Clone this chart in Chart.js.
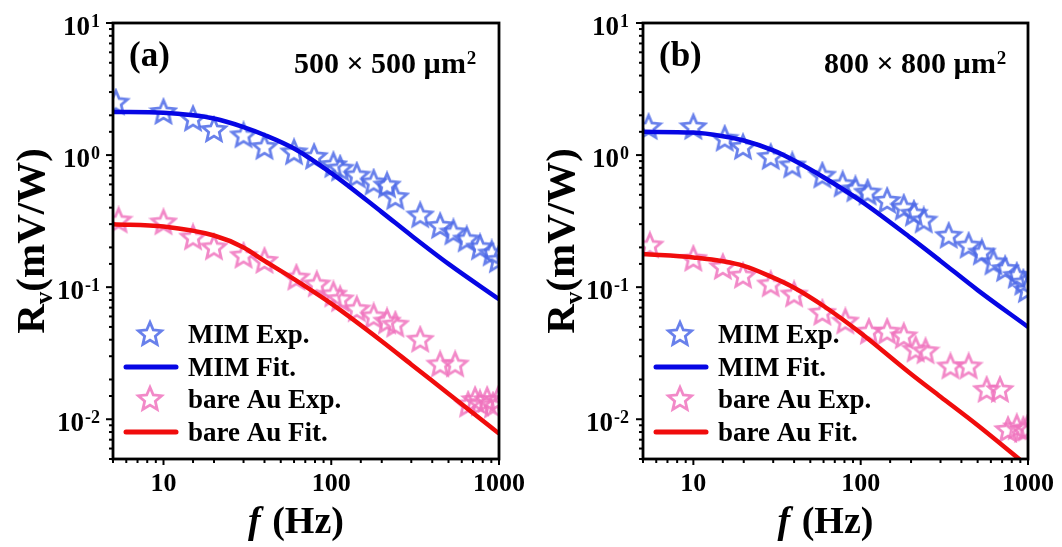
<!DOCTYPE html>
<html><head><meta charset="utf-8">
<script src="https://cdn.jsdelivr.net/npm/chart.js@4.4.0/dist/chart.umd.min.js"></script>
<style>
html,body{margin:0;padding:0;background:#fff;}
#wrap{position:relative;width:1062px;height:547px;background:#fff;}
.panel{position:absolute;top:0;width:531px;height:547px;}
</style></head><body>
<div id="wrap">
<div class="panel" style="left:0"><canvas id="ca" width="531" height="547"></canvas></div>
<div class="panel" style="left:531px"><canvas id="cb" width="531" height="547"></canvas></div>
</div>
<script>
// ---- axis ranges and tick labels ----
const xRange = [5, 1000];
const yRange = [0.005, 10];
const xTickValues = [10, 100, 1000];
const xTickLabels = ['10', '100', '1000'];
const yTickValues = [0.01, 0.1, 1, 10];
const yTickExponents = ['-2', '-1', '0', '1'];
const legendLabels = ['MIM Exp.', 'MIM Fit.', 'bare Au Exp.', 'bare Au Fit.'];

// ---- panel (a) 500 x 500 um^2 ----
const aMimExpF = [5.2, 10, 15, 20, 30, 40, 60, 79, 103, 113, 142, 179, 215, 241, 339, 446, 535, 642, 771, 905, 985];
const aMimExpR = [2.5, 2.12, 1.88, 1.55, 1.41, 1.15, 1.05, 0.97, 0.84, 0.79, 0.70, 0.62, 0.59, 0.48, 0.35, 0.29, 0.26, 0.23, 0.20, 0.18, 0.16];
const aMimFitF = [5, 10, 15, 20, 30, 40, 60, 100, 200, 300, 500, 1000];
const aMimFitR = [2.12, 2.09, 2.0, 1.89, 1.63, 1.42, 1.12, 0.73, 0.37, 0.246, 0.15, 0.081];
const aBareExpF = [5.4, 10, 15, 20, 30, 40, 62, 82, 103, 113, 142, 179, 215, 241, 339, 446, 548, 655, 720, 770, 850, 921, 985];
const aBareExpR = [0.32, 0.31, 0.238, 0.2, 0.173, 0.158, 0.118, 0.105, 0.088, 0.081, 0.068, 0.06, 0.055, 0.052, 0.040, 0.026, 0.026, 0.0129, 0.014, 0.0132, 0.014, 0.0127, 0.014];
const aBareFitF = [5, 10, 20, 30, 40, 60, 100, 200, 300, 500, 1000];
const aBareFitR = [0.30, 0.288, 0.246, 0.2, 0.158, 0.115, 0.075, 0.039, 0.026, 0.0156, 0.0078];

// ---- panel (b) 800 x 800 um^2 ----
const bMimExpF = [5.4, 10, 15.4, 19.8, 29, 39, 59, 78, 93, 110, 144, 181, 208, 238, 336, 442, 530, 622, 730, 857, 938, 985];
const bMimExpR = [1.63, 1.63, 1.33, 1.15, 0.965, 0.835, 0.70, 0.60, 0.55, 0.52, 0.45, 0.40, 0.36, 0.32, 0.245, 0.206, 0.183, 0.154, 0.137, 0.122, 0.108, 0.095];
const bMimFitF = [5, 10, 15, 20, 30, 40, 60, 100, 200, 300, 500, 1000];
const bMimFitR = [1.5, 1.48, 1.39, 1.29, 1.085, 0.91, 0.68, 0.45, 0.235, 0.158, 0.095, 0.05];
const bBareExpF = [5.5, 10, 15, 19.8, 29, 40, 59, 81, 112, 144, 181, 213, 244, 344, 442, 566, 680, 760, 857, 938, 990];
const bBareExpR = [0.207, 0.164, 0.142, 0.122, 0.105, 0.088, 0.064, 0.055, 0.046, 0.046, 0.0425, 0.0337, 0.0327, 0.0251, 0.0251, 0.0167, 0.0167, 0.0083, 0.0087, 0.0083, 0.0085];
const bBareFitF = [5, 10, 20, 30, 40, 60, 100, 200, 300, 500, 1000];
const bBareFitR = [0.178, 0.168, 0.145, 0.118, 0.099, 0.072, 0.045, 0.022, 0.0148, 0.009, 0.0044];

// ---- styles ----
const BLUE_LINE = 'rgb(6,6,228)';
const RED_LINE = 'rgb(240,12,12)';
const BLUE_STAR = 'rgba(78,106,232,0.85)';
const PINK_STAR = 'rgba(240,116,190,0.85)';
const SERIF = '"Liberation Serif","Times New Roman",serif';

function makeStar(color) {
  const c = document.createElement('canvas');
  c.width = 30; c.height = 30;
  const g = c.getContext('2d');
  const R = 12.2, r = 5.6, cx = 15, cy = 15.5;
  g.beginPath();
  for (let i = 0; i < 10; i++) {
    const a = -Math.PI / 2 + i * Math.PI / 5;
    const rr = (i % 2 === 0) ? R : r;
    const px = cx + rr * Math.cos(a), py = cy + rr * Math.sin(a);
    if (i === 0) g.moveTo(px, py); else g.lineTo(px, py);
  }
  g.closePath();
  g.lineJoin = 'miter';
  g.lineWidth = 2.8;
  g.strokeStyle = color;
  g.stroke();
  return c;
}
const blueStar = makeStar(BLUE_STAR);
const pinkStar = makeStar(PINK_STAR);

function pts(xs, ys) { return xs.map((v, i) => ({ x: v, y: ys[i] })); }
function isPow10(v) { const e = Math.log10(v); return Math.abs(e - Math.round(e)) < 1e-6; }

function decoPlugin(tag, area, yTickOffset, xTitleOffset) {
  return {
    id: 'deco' + tag,
    afterDraw(chart) {
      const ctx = chart.ctx;
      const { left, right, top, bottom } = chart.chartArea;
      const xs = chart.scales.x, ys = chart.scales.y;
      ctx.save();
      // tick marks
      ctx.strokeStyle = '#000';
      ctx.lineWidth = 2;
      ys.ticks.forEach(t => {
        const py = ys.getPixelForValue(t.value);
        if (py < top - 0.5 || py > bottom + 0.5) return;
        const len = isPow10(t.value) ? 7 : 4;
        ctx.beginPath(); ctx.moveTo(left - len, py); ctx.lineTo(left, py); ctx.stroke();
      });
      xs.ticks.forEach(t => {
        const px = xs.getPixelForValue(t.value);
        if (px < left - 0.5 || px > right + 0.5) return;
        const len = isPow10(t.value) ? 6 : 4;
        ctx.beginPath(); ctx.moveTo(px, bottom); ctx.lineTo(px, bottom + len); ctx.stroke();
      });
      // frame
      ctx.lineWidth = 2.8;
      ctx.strokeRect(left, top, right - left, bottom - top);

      ctx.fillStyle = '#000';
      // y tick labels 10^n
      const yBaseFont = 'bold 27px ' + SERIF, supFont = 'bold 18px ' + SERIF;
      yTickValues.forEach((v, i) => {
        const py = ys.getPixelForValue(v);
        ctx.font = supFont;
        const sw = ctx.measureText(yTickExponents[i]).width;
        const rx = left - yTickOffset;
        ctx.textAlign = 'left'; ctx.textBaseline = 'alphabetic';
        ctx.fillText(yTickExponents[i], rx - sw, py + 4);
        ctx.font = yBaseFont;
        ctx.textAlign = 'right';
        ctx.fillText('10', rx - sw - 1, py + 12);
      });
      // x tick labels
      ctx.font = 'bold 26px ' + SERIF; ctx.textAlign = 'center'; ctx.textBaseline = 'alphabetic';
      xTickValues.forEach((v, i) => {
        const px = xs.getPixelForValue(v);
        ctx.fillText(xTickLabels[i], px, bottom + 32);
      });
      // x title: f (Hz)
      const tFontI = 'italic bold 38px ' + SERIF, tFont = 'bold 38px ' + SERIF;
      ctx.font = tFontI; const wf = ctx.measureText('f').width;
      ctx.font = tFont; const wh = ctx.measureText(' (Hz)').width;
      let sx = (left + right) / 2 + xTitleOffset - (wf + wh) / 2;
      ctx.textAlign = 'left';
      ctx.font = tFontI; ctx.fillText('f', sx, bottom + 74);
      ctx.font = tFont; ctx.fillText(' (Hz)', sx + wf + 2, bottom + 74);
      // y title: R_v(mV/W)
      ctx.save();
      ctx.translate(left - 69, (top + bottom) / 2);
      ctx.rotate(-Math.PI / 2);
      const f1 = 'bold 41px ' + SERIF, f2 = 'bold 25px ' + SERIF;
      ctx.font = f1; const wR = ctx.measureText('R').width; const wRest = ctx.measureText('(mV/W)').width;
      ctx.font = f2; const wv = ctx.measureText('v').width;
      let tx = -(wR + wv + wRest) / 2;
      ctx.textAlign = 'left'; ctx.textBaseline = 'alphabetic';
      ctx.font = f1; ctx.fillText('R', tx, 0); tx += wR;
      ctx.font = f2; ctx.fillText('v', tx, 8); tx += wv;
      ctx.font = f1; ctx.fillText('(mV/W)', tx, 0);
      ctx.restore();
      // panel tag and area
      ctx.font = 'bold 35px ' + SERIF; ctx.textAlign = 'left';
      ctx.fillText(tag, left + 16, top + 43);
      ctx.font = 'bold 30px ' + SERIF;
      const at = area + ' \u00D7 ' + area + ' \u00B5m';
      const aw = ctx.measureText(at).width;
      const ax = left + 181;
      ctx.fillText(at, ax, top + 50);
      ctx.font = 'bold 19px ' + SERIF;
      ctx.fillText('2', ax + aw + 1, top + 41);
      // legend
      const rows = [top + 311, top + 344, top + 376, top + 409];
      ctx.font = 'bold 27px ' + SERIF;
      rows.forEach((ry, i) => {
        if (i === 0 || i === 2) {
          const img = i === 0 ? blueStar : pinkStar;
          ctx.drawImage(img, left + 37 - img.width / 2, ry - img.height / 2);
        } else {
          ctx.strokeStyle = i === 1 ? BLUE_LINE : RED_LINE;
          ctx.lineWidth = 5; ctx.lineCap = 'round';
          ctx.beginPath(); ctx.moveTo(left + 13, ry); ctx.lineTo(left + 63, ry); ctx.stroke();
        }
        ctx.fillStyle = '#000';
        ctx.fillText(legendLabels[i], left + 75, ry + 9);
      });
      ctx.restore();
    }
  };
}

function makePanel(id, pad, tag, area, yTickOffset, xTitleOffset, d) {
  new Chart(document.getElementById(id), {
    type: 'line',
    data: {
      datasets: [
        { label: legendLabels[1], data: pts(d.mimFitF, d.mimFitR), borderColor: BLUE_LINE, borderWidth: 4.5, pointRadius: 0, cubicInterpolationMode: 'monotone', fill: false, clip: 0, order: 0 },
        { label: legendLabels[3], data: pts(d.bareFitF, d.bareFitR), borderColor: RED_LINE, borderWidth: 4.5, pointRadius: 0, cubicInterpolationMode: 'monotone', fill: false, clip: 0, order: 0 },
        { label: legendLabels[0], data: pts(d.mimExpF, d.mimExpR), showLine: false, pointStyle: blueStar, pointRadius: 12, clip: 0, order: 1 },
        { label: legendLabels[2], data: pts(d.bareExpF, d.bareExpR), showLine: false, pointStyle: pinkStar, pointRadius: 12, clip: 0, order: 1 }
      ]
    },
    options: {
      responsive: false, animation: false, devicePixelRatio: 1,
      layout: { padding: pad },
      scales: {
        x: { type: 'logarithmic', min: xRange[0], max: xRange[1], display: false, ticks: { autoSkip: false } },
        y: { type: 'logarithmic', min: yRange[0], max: yRange[1], display: false, ticks: { autoSkip: false } }
      },
      plugins: { legend: { display: false }, tooltip: { enabled: false } },
      events: []
    },
    plugins: [decoPlugin(tag, area, yTickOffset, xTitleOffset)]
  });
}

makePanel('ca', { left: 113, right: 32, top: 23, bottom: 88 }, '(a)', '500', 13, -11, {
  mimExpF: aMimExpF, mimExpR: aMimExpR, mimFitF: aMimFitF, mimFitR: aMimFitR,
  bareExpF: aBareExpF, bareExpR: aBareExpR, bareFitF: aBareFitF, bareFitR: aBareFitR
});
makePanel('cb', { left: 112, right: 34, top: 23, bottom: 88 }, '(b)', '800', 14, -11, {
  mimExpF: bMimExpF, mimExpR: bMimExpR, mimFitF: bMimFitF, mimFitR: bMimFitR,
  bareExpF: bBareExpF, bareExpR: bBareExpR, bareFitF: bBareFitF, bareFitR: bBareFitR
});
</script>
</body></html>
